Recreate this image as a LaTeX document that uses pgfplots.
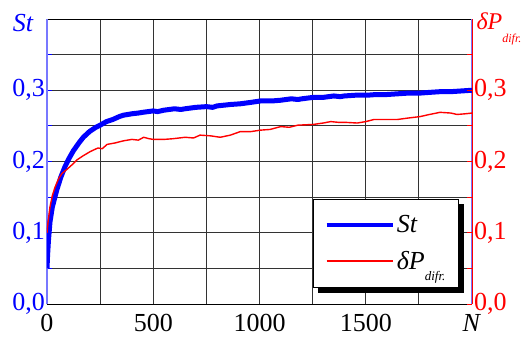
\documentclass[border=0pt]{standalone}
\usepackage{fontspec}
\setmainfont{Liberation Serif}
\usepackage{pgfplots}
\pgfplotsset{compat=1.18}
\definecolor{axblue}{RGB}{120,120,255}

\pgfplotstableread{
N v
0 0.050
3 0.070
7 0.090
14 0.115
25 0.136
46 0.160
65 0.178
85 0.193
105 0.205
124 0.215
150 0.226
171 0.234
200 0.242
230 0.248
250 0.251
280 0.256
310 0.259
340 0.263
360 0.265
400 0.267
430 0.268
450 0.269
500 0.271
520 0.270
550 0.272
600 0.274
630 0.273
650 0.274
700 0.276
750 0.277
780 0.276
800 0.278
863 0.280
910 0.281
960 0.283
1005 0.285
1060 0.285
1100 0.286
1150 0.288
1180 0.287
1200 0.288
1253 0.290
1300 0.290
1350 0.292
1380 0.291
1400 0.292
1450 0.293
1505 0.293
1550 0.294
1600 0.294
1650 0.295
1700 0.296
1755 0.296
1800 0.297
1850 0.298
1900 0.298
1950 0.299
2000 0.300
}\sttable

\pgfplotstableread{
N v
0 0.100
5 0.115
14 0.136
25 0.152
38 0.164
55 0.176
70 0.183
94 0.189
120 0.196
140 0.202
170 0.208
204 0.214
240 0.219
260 0.218
283 0.224
320 0.226
360 0.229
400 0.231
430 0.230
455 0.234
480 0.232
500 0.231
550 0.231
594 0.232
650 0.234
690 0.233
720 0.237
770 0.236
815 0.234
863 0.237
910 0.242
960 0.242
1005 0.244
1050 0.245
1100 0.249
1140 0.248
1180 0.251
1253 0.252
1300 0.254
1335 0.256
1370 0.255
1400 0.255
1460 0.254
1500 0.256
1540 0.259
1600 0.259
1650 0.259
1700 0.261
1755 0.263
1800 0.266
1850 0.269
1900 0.268
1930 0.266
1970 0.267
2000 0.268
}\dptable

\begin{document}
\begin{tikzpicture}
\useasboundingbox (-47pt,-35pt) rectangle (475pt,304pt);
\begin{axis}[
  scale only axis, width=425pt, height=285pt,
  xmin=0, xmax=2000, ymin=0, ymax=0.4,
  clip mode=individual,
  xtick={0,500,1000,1500,2000},
  xticklabels={0,500,1000,1500,\textit{N}\hspace{12pt}},
  minor xtick={250,750,1250,1750},
  ytick={0,0.1,0.2,0.3},
  minor ytick={0.05,0.15,0.25,0.35},
  grid=both,
  grid style={black!80, line width=0.8pt},
  minor grid style={black!80, line width=0.8pt},
  separate axis lines,
  x axis line style={black, line width=0.8pt},
  y axis line style={axblue, line width=1.6pt},
  tick align=inside, major tick length=5pt, minor tick length=5pt,
  ytick pos=left,
  ytick style={blue, line width=0.8pt},
  xtick style={draw=none},
  /pgf/number format/assume math mode=true,
  yticklabel style={blue, font=\fontsize{26}{26}\selectfont, inner xsep=2pt,
    /pgf/number format/.cd, use comma, fixed, fixed zerofill, precision=1},
  xticklabel style={black, font=\fontsize{26}{26}\selectfont, yshift=-7pt},
]
\addplot[blue, line width=5pt, line join=round] table[x=N,y=v] {\sttable};
\node[blue, anchor=base, font=\itshape\fontsize{26}{26}\selectfont]
  at (rel axis cs:0,1) [xshift=-24pt, yshift=-13pt] {St};
\end{axis}
\begin{axis}[
  scale only axis, width=425pt, height=285pt,
  xmin=0, xmax=2000, ymin=0, ymax=0.4,
  clip mode=individual,
  axis x line=none, axis y line*=right,
  y axis line style={red, line width=1pt},
  ytick={0,0.1,0.2,0.3},
  minor ytick={0.05,0.15,0.25,0.35},
  tick align=inside, major tick length=5pt, minor tick length=5pt,
  ytick style={red, line width=0.8pt},
  /pgf/number format/assume math mode=true,
  yticklabel style={red, font=\fontsize{26}{26}\selectfont, inner xsep=2pt,
    /pgf/number format/.cd, use comma, fixed, fixed zerofill, precision=1},
  legend image code/.code={\draw[#1] (0pt,0pt) -- (66pt,0pt);},
  legend cell align=left,
  legend style={name=leg, at={(0.969,0.368)}, anchor=north east, draw=black, line width=0.8pt,
    fill=white, font=\fontsize{26}{26}\selectfont, row sep=13pt, inner xsep=11pt, inner ysep=14pt},
]
\addlegendimage{blue, line width=4.5pt}
\addlegendentry{\textit{St}}
\addplot[red, line width=1.4pt, line join=round] table[x=N,y=v] {\dptable};
\addlegendentry{\textit{δP}\raisebox{-11pt}{\fontsize{13}{13}\selectfont\textit{difr.}}\rule[-20pt]{0pt}{1pt}}
\node[red, anchor=base west, font=\fontsize{24}{24}\selectfont]
  at (rel axis cs:1,1) [xshift=1pt, yshift=-11pt] {\textit{δP}\raisebox{-13pt}{\fontsize{12}{12}\selectfont\textit{difr.}}};
\end{axis}
\fill[black] ([xshift=0.4pt,yshift=-5pt]leg.north east) rectangle ([xshift=5.5pt,yshift=-5.5pt]leg.south east);
\fill[black] ([xshift=5pt,yshift=-0.4pt]leg.south west) rectangle ([xshift=5.5pt,yshift=-5.5pt]leg.south east);
\end{tikzpicture}
\end{document}
